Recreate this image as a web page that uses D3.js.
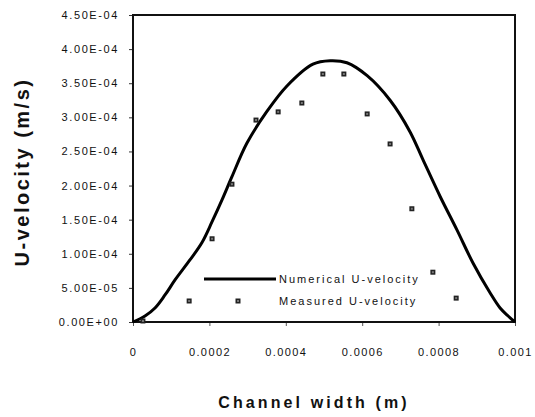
<!DOCTYPE html>
<html><head><meta charset="utf-8">
<script src="https://cdn.jsdelivr.net/npm/d3@7"></script>
<style>body{margin:0;background:#fff}svg{display:block}text{font-family:Arial,"Liberation Sans",sans-serif;fill:#111}</style>
</head><body><div id="chart"></div>
<script>
// Numerical U-velocity (curve)
const numX = [0,0.0000314,0.0000576,0.0000838,0.00011,0.000149,0.000181,0.000207,0.000233,0.000259,0.000298,0.000351,0.000403,0.000471,0.000516,0.00056,0.000613,0.000673,0.000725,0.000759,0.000804,0.000848,0.00089,0.000935,0.000961,0.000982,0.001];
const numY = [0,0.0000088,0.0000205,0.0000396,0.0000616,0.0000909,0.000117,0.000147,0.000179,0.000213,0.000262,0.000309,0.000346,0.000378,0.000383,0.00038,0.000361,0.000325,0.000279,0.000238,0.000184,0.000135,0.0000865,0.0000425,0.0000205,0.0000088,0];
// Measured U-velocity (points)
const measX = [0.000026,0.000147,0.000207,0.000259,0.000322,0.00038,0.000442,0.000497,0.000552,0.000613,0.000673,0.00073,0.000785,0.000846];
const measY = [0.0000015,0.0000308,0.000122,0.000202,0.000296,0.000308,0.000321,0.0003635,0.0003635,0.000305,0.000261,0.000166,0.000073,0.000035];
const xTicks = [0,0.0002,0.0004,0.0006,0.0008,0.001];
const xTickLabels = ["0","0.0002","0.0004","0.0006","0.0008","0.001"];
const yTicks = [0,0.00005,0.0001,0.00015,0.0002,0.00025,0.0003,0.00035,0.0004,0.00045];
const yTickLabels = ["0.00E+00","5.00E-05","1.00E-04","1.50E-04","2.00E-04","2.50E-04","3.00E-04","3.50E-04","4.00E-04","4.50E-04"];
const seriesNames = ["Numerical U-velocity","Measured U-velocity"];
const xTitle = "Channel width (m)", yTitle = "U-velocity (m/s)";

const W=535,H=417, L=133,R=515,T=15,B=322;
const svg=d3.select("#chart").append("svg").attr("width",W).attr("height",H);
const x=d3.scaleLinear().domain([0,0.001]).range([L,R]);
const y=d3.scaleLinear().domain([0,0.00045]).range([B,T]);

// axes
const yAxis=d3.axisLeft(y).tickValues(yTicks).tickFormat((d,i)=>yTickLabels[i]).tickSize(4).tickPadding(10);
const gy=svg.append("g").attr("transform",`translate(${L},0)`).call(yAxis);
gy.select(".domain").remove();
gy.selectAll("text").attr("font-size",11).attr("letter-spacing","1.6px").attr("fill","#111").style("font-family","Arial");
gy.selectAll("line").attr("stroke","#333");
const xAxis=d3.axisBottom(x).tickValues(xTicks).tickFormat((d,i)=>xTickLabels[i]).tickSize(4).tickPadding(22);
const gx=svg.append("g").attr("transform",`translate(0,${B})`).call(xAxis);
gx.select(".domain").remove();
gx.selectAll("text").attr("font-size",11).attr("letter-spacing","1.4px").attr("fill","#111").style("font-family","Arial");
gx.selectAll("line").attr("stroke","#555");

// frame
svg.append("rect").attr("x",L).attr("y",T).attr("width",R-L).attr("height",B-T).attr("fill","none").attr("stroke","#111").attr("stroke-width",2);

// curve
const line=d3.line().x(i=>x(numX[i])).y(i=>y(numY[i])).curve(d3.curveCatmullRom.alpha(0.5));
svg.append("path").attr("d",line(d3.range(numX.length))).attr("fill","none").attr("stroke","#000").attr("stroke-width",3).attr("stroke-linejoin","round");

// points
function marker(g,cx,cy){
  g.append("rect").attr("x",cx-2.5).attr("y",cy-2.5).attr("width",5).attr("height",5).attr("fill","#222");
  g.append("rect").attr("x",cx-1).attr("y",cy-1).attr("width",2).attr("height",2).attr("fill","#777");
}
const gp=svg.append("g");
measX.forEach((v,i)=>marker(gp,x(v),y(measY[i])));

// legend
const lg=svg.append("g");
lg.append("line").attr("x1",204).attr("x2",276).attr("y1",279).attr("y2",279).attr("stroke","#000").attr("stroke-width",3);
lg.append("text").attr("x",279).attr("y",283).attr("font-size",11).attr("letter-spacing","2px").text(seriesNames[0]);
marker(lg,238,301);
lg.append("text").attr("x",279).attr("y",305).attr("font-size",11).attr("letter-spacing","2px").text(seriesNames[1]);

// titles
svg.append("text").attr("x",314).attr("y",408).attr("text-anchor","middle").attr("font-size",16).attr("font-weight","bold").attr("letter-spacing","3.1px").text(xTitle);
svg.append("text").attr("transform","translate(29,172) rotate(-90)").attr("text-anchor","middle").attr("font-size",20).attr("font-weight","bold").attr("letter-spacing","2.5px").text(yTitle);
</script></body></html>
